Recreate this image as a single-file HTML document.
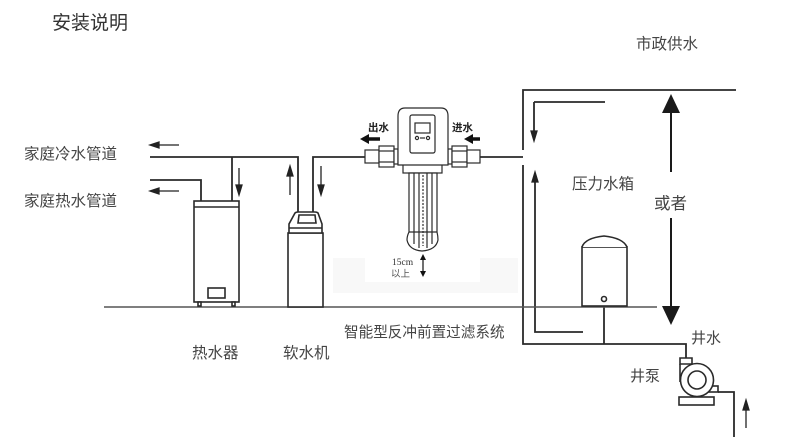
<!DOCTYPE html>
<html><head><meta charset="utf-8">
<style>
html,body{margin:0;padding:0;background:#fff;}
svg{display:block;}
text{font-family:"Liberation Sans","Noto Sans CJK SC",sans-serif;fill:#444;}
</style></head>
<body>
<svg width="790" height="444" viewBox="0 0 790 444" xmlns="http://www.w3.org/2000/svg">
<!-- faint gray band -->
<rect x="333" y="258" width="185" height="35" fill="#f8f8f8"/>
<rect x="365" y="250" width="115" height="32" fill="#fff"/>

<g fill="none" stroke="#2a2a2a" stroke-width="1.8">
<!-- cold pipe -->
<polyline points="150,157 298,157 298,212"/>
<line x1="232" y1="157" x2="232" y2="201"/>
<polyline points="313,212 313,157 366,157"/>
<!-- hot pipe -->
<polyline points="150,180 201,180 201,201"/>
<!-- right pipe -->
<line x1="480" y1="157" x2="523" y2="157"/>
<polyline points="523,150 523,90 736,90"/>
<polyline points="523,165 523,344 686,344 686,358"/>
<polyline points="534,102 605,102"/>
<line x1="534" y1="102" x2="534" y2="134"/>
<polyline points="535,180 535,332 583,332"/>
<line x1="604" y1="302" x2="604" y2="344"/>
<polyline points="718,392 734,392 734,437"/>
</g>

<!-- floor -->
<line x1="104" y1="307" x2="657" y2="307" stroke="#555" stroke-width="1.6"/>

<!-- small arrows -->
<g stroke="#222" stroke-width="1.3" fill="#222">
<line x1="156" y1="145" x2="179" y2="145"/><polygon points="150,145 159,142 159,148"/>
<line x1="156" y1="191" x2="179" y2="191"/><polygon points="150,191 159,188 159,194"/>
<line x1="239" y1="168" x2="239" y2="186"/><polygon points="239,195 236,185 242,185"/>
<line x1="290" y1="175" x2="290" y2="195"/><polygon points="290,166 287,176 293,176"/>
<line x1="321" y1="166" x2="321" y2="186"/><polygon points="321,195 318,185 324,185"/>
<polygon points="534,141 531,131 537,131"/>
<polygon points="535,172 532,182 538,182"/>
<line x1="746" y1="408" x2="746" y2="428"/><polygon points="746,400 743,410 749,410"/>
</g>

<!-- big double arrow -->
<g fill="#1a1a1a" stroke="#1a1a1a">
<line x1="671" y1="110" x2="671" y2="172" stroke-width="2"/>
<polygon points="671,94 662,113 680,113" stroke="none"/>
<line x1="671" y1="218" x2="671" y2="309" stroke-width="2"/>
<polygon points="671,325 662,306 680,306" stroke="none"/>
</g>

<!-- water heater -->
<g fill="#fff" stroke="#2a2a2a" stroke-width="1.6">
<rect x="194" y="201" width="45" height="101"/>
<line x1="194" y1="207" x2="239" y2="207"/>
<rect x="208" y="288" width="17" height="10"/>
<rect x="198" y="302" width="3" height="4"/>
<rect x="232" y="302" width="3" height="4"/>
</g>

<!-- softener -->
<g fill="#fff" stroke="#2a2a2a" stroke-width="1.6">
<rect x="288" y="233" width="35" height="74"/>
<path d="M289,233 L289,224 L295,213 Q296,212 298,212 L315,212 Q317,212 318,213 L322,224 L322,233 Z"/>
<line x1="289" y1="228" x2="322" y2="228"/>
<path d="M298,223 L299,215 L315,215 L316,223 Z"/>
</g>

<!-- pressure tank -->
<g fill="#fff" stroke="#2a2a2a" stroke-width="1.6">
<rect x="582" y="247" width="45" height="59"/>
<path d="M582,247 Q585,238 604,236 Q623,238 627,247"/>
<circle cx="604" cy="299" r="2.5"/>
</g>

<!-- pump -->
<g fill="#fff" stroke="#2a2a2a" stroke-width="1.6">
<rect x="679" y="397" width="35" height="8"/>
<path d="M680,358 L692,358 L692,364 L680,364 Z"/>
<rect x="700" y="386" width="18" height="6"/>
<path d="M680,364 L680,382"/>
<circle cx="697" cy="380" r="16.5"/>
<circle cx="697" cy="380" r="9"/>
</g>

<!-- filter -->
<g fill="#fff" stroke="#2a2a2a" stroke-width="1.2">
<!-- left fittings -->
<rect x="365" y="150" width="14" height="13"/>
<rect x="379" y="146" width="15" height="21"/>
<line x1="379" y1="151" x2="394" y2="151"/><line x1="379" y1="162" x2="394" y2="162"/>
<rect x="394" y="149" width="4" height="15"/>
<!-- right fittings -->
<rect x="448" y="149" width="4" height="15"/>
<rect x="452" y="146" width="15" height="21"/>
<line x1="452" y1="151" x2="467" y2="151"/><line x1="452" y1="162" x2="467" y2="162"/>
<rect x="467" y="150" width="13" height="13"/>
<!-- neck -->
<rect x="403" y="163" width="39" height="10"/>
<!-- bowl -->
<path d="M409,173 L409,232 Q407,236 407,240 Q409,250 422,251 Q436,250 438,240 Q438,236 437,232 L437,173 Z"/>
<line x1="414" y1="173" x2="414" y2="244"/>
<line x1="432" y1="173" x2="432" y2="244"/>
<line x1="419" y1="173" x2="419" y2="248"/>
<line x1="427" y1="173" x2="427" y2="248"/>
<line x1="423" y1="175" x2="423" y2="246" stroke-dasharray="2,1.5"/>
<line x1="409" y1="232" x2="437" y2="232"/>
<!-- head -->
<path d="M398,165 L398,116 Q398,108 405,108 L441,108 Q448,108 448,116 L448,165 Z"/>
<rect x="410" y="115" width="25" height="38" rx="2"/>
<rect x="415" y="123" width="15" height="10"/>
<circle cx="417" cy="138" r="1.6"/>
<circle cx="428" cy="138" r="1.6"/>
<line x1="420" y1="138" x2="425" y2="138"/>
</g>
<!-- filter bold arrows -->
<g fill="#111" stroke="#111">
<line x1="367" y1="139" x2="380" y2="139" stroke-width="3.5"/>
<polygon points="360,139 369,134 369,144" stroke="none"/>
<line x1="471" y1="139" x2="480" y2="139" stroke-width="3.5"/>
<polygon points="464,139 473,134 473,144" stroke="none"/>
<!-- 15cm arrow -->
<line x1="423" y1="258" x2="423" y2="272" stroke-width="1.2"/>
<polygon points="423,254 420,260 426,260" stroke="none"/>
<polygon points="423,277 420,271 426,271" stroke="none"/>
</g>

<!-- texts -->
<text x="52" y="29" font-size="19" style="fill:#333">安装说明</text>
<text x="636" y="49" font-size="15.5">市政供水</text>
<text x="24" y="159" font-size="15.5">家庭冷水管道</text>
<text x="24" y="206" font-size="15.5">家庭热水管道</text>
<text x="368" y="131" font-size="10.5" font-weight="bold" style="fill:#222">出水</text>
<text x="452" y="131" font-size="10.5" font-weight="bold" style="fill:#222">进水</text>
<text x="392" y="265" font-size="9.5" style="fill:#333;font-family:'Liberation Serif','Noto Serif CJK SC',serif">15cm</text>
<text x="391" y="277" font-size="9.5" style="fill:#555">以上</text>
<text x="572" y="189" font-size="15.5">压力水箱</text>
<text x="654" y="209" font-size="16.5">或者</text>
<text x="344" y="337" font-size="14.6">智能型反冲前置过滤系统</text>
<text x="691" y="343" font-size="15">井水</text>
<text x="630" y="381" font-size="15">井泵</text>
<text x="192" y="358" font-size="15.5">热水器</text>
<text x="283" y="358" font-size="15.5">软水机</text>
</svg>
</body></html>
